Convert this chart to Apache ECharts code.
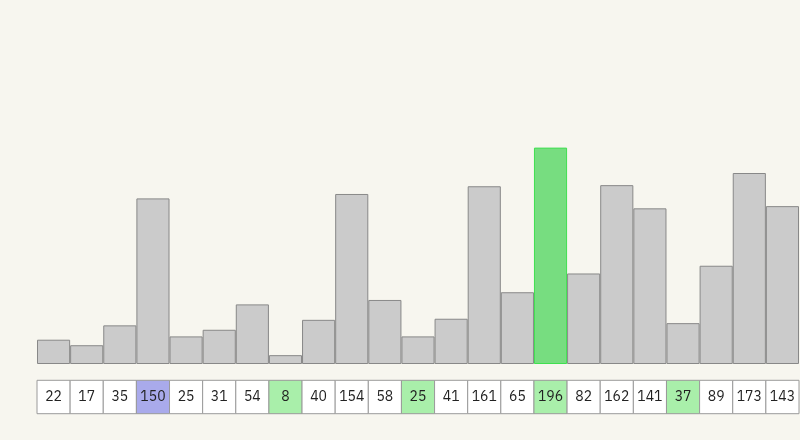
<!DOCTYPE html>
<html><head><meta charset="utf-8">
<script src="https://cdn.jsdelivr.net/npm/echarts@6/dist/echarts.min.js"></script>
<style>html,body{margin:0;padding:0;background:#f7f6ef;}#c{width:800px;height:440px;}</style>
</head><body><div id="c"></div>
<script>
const values = [22,17,35,150,25,31,54,8,40,154,58,25,41,161,65,196,82,162,141,37,89,173,143];
const categories = values.map((v,i)=>String(i));
const purpleCells = [3];
const greenCells = [7,11,15,19];
const greenBars = [15];

const chart = echarts.init(document.getElementById('c'), null, {renderer:'canvas'});
const barData = values.map((v,i)=>({
  value: v,
  itemStyle: greenBars.includes(i) ? {color:'#77dd80', borderColor:'#3fe050'} : {color:'#cbcbcb', borderColor:'#888888'}
}));
chart.setOption({
  backgroundColor:'#f7f6ef',
  animation:false,
  grid:[
    {left:37, right:1, top:143.2, bottom:76},
    {left:37, right:1, top:380.3, height:33.4}
  ],
  xAxis:[
    {gridIndex:0, type:'category', data:categories, show:false},
    {gridIndex:1, type:'category', data:categories, show:false}
  ],
  yAxis:[
    {gridIndex:0, type:'value', min:0, max:200, show:false},
    {gridIndex:1, type:'value', min:0, max:1, show:false}
  ],
  series:[
    {type:'bar', xAxisIndex:0, yAxisIndex:0, data:barData, barCategoryGap:'0%',
     itemStyle:{borderWidth:1}},
    {type:'custom', xAxisIndex:1, yAxisIndex:1, data:values.map((v,i)=>[i,v]),
     renderItem:function(params, api){
       const i = api.value(0);
       const p0 = api.coord([i,1]);
       const p1 = api.coord([i,0]);
       const w = api.size([1,0])[0];
       let fill = '#ffffff';
       if (purpleCells.includes(i)) fill = '#a9aaeb';
       else if (greenCells.includes(i)) fill = '#a9efaa';
       return {type:'group', children:[
         {type:'rect', shape:{x:p0[0]-w/2, y:p0[1], width:w, height:p1[1]-p0[1]},
          style:{fill:fill, stroke:'#9a9a9a', lineWidth:1}},
         {type:'text', style:{text:String(api.value(1)), x:p0[0], y:(p0[1]+p1[1])/2,
          align:'center', verticalAlign:'middle', fill:'#222', fontSize:14,
          fontFamily:'"IBM Plex Sans","Noto Sans",sans-serif'}}
       ]};
     }}
  ]
});
</script></body></html>
